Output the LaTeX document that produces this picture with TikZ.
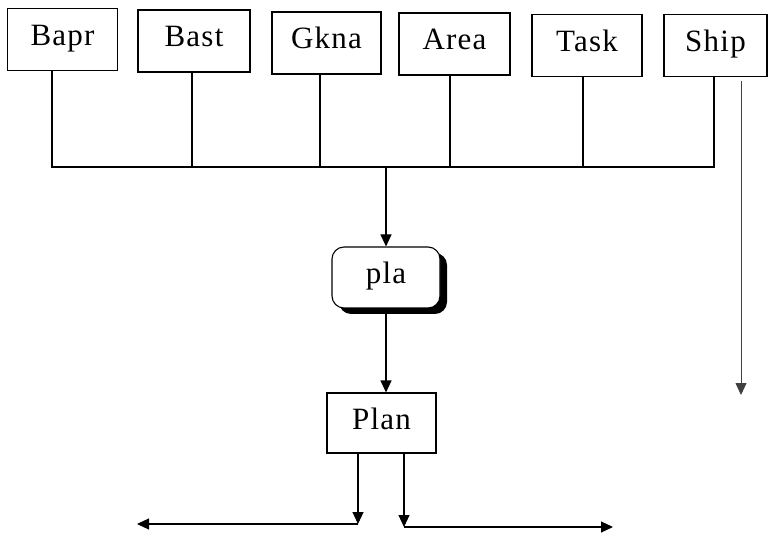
\documentclass[tikz,border=0pt]{standalone}
\usepackage{fontspec}
\setmainfont{Liberation Serif}[LetterSpace=4]
\usetikzlibrary{arrows.meta,shadows}
\begin{document}
\begin{tikzpicture}[x=1pt,y=-1pt, line width=1.1pt,
  box/.style={draw, rectangle, inner sep=0pt, minimum width=110pt,
    text height=37pt, text depth=25pt, font=\fontsize{31}{36}\selectfont},
  plabox/.style={draw, fill=white, rectangle, rounded corners=12pt, inner sep=0pt,
    minimum width=108pt, text height=37pt, text depth=24pt,
    font=\fontsize{31}{36}\selectfont,
    drop shadow={shadow xshift=7pt, shadow yshift=-6pt, fill=black, opacity=1}},
  arr/.style={-{Triangle[length=12pt,width=11pt]}},
]
\useasboundingbox (0,0) rectangle (768,534);

% top boxes
\node[box] (bapr) at (62.5,39.5) {Bapr};
\node[box, minimum width=112pt] (bast) at (194,41) {Bast};
\node[box, minimum width=109pt] (gkna) at (326.5,43) {Gkna};
\node[box, minimum width=111pt] (area) at (454.5,44) {Area};
\node[box] (task) at (587,45.5) {Task};
\node[box, minimum width=103pt] (ship) at (715.5,45.5) {Ship};

% bus
\coordinate (busL) at (52,167);
\coordinate (busR) at (714,167);
\coordinate (busM) at (386,167);
\draw (bapr.south -| busL) -- (busL) -- (busR) -- (ship.south -| busR);
\draw ([xshift=-2pt]bast.south) -- ([xshift=-2pt]bast.south |- busL);
\draw ([xshift=-6.5pt]gkna.south) -- ([xshift=-6.5pt]gkna.south |- busL);
\draw ([xshift=-4.5pt]area.south) -- ([xshift=-4.5pt]area.south |- busL);
\draw ([xshift=-4pt]task.south) -- ([xshift=-4pt]task.south |- busL);

% pla
\node[plabox] (pla) at (386,277.5) {pla};
\draw[arr] (busM) -- (pla.north);

% Plan
\node[box, minimum width=109pt, text height=36pt, text depth=24pt] (plan) at (381.5,423) {Plan};
\draw[arr] (pla.south) -- (pla.south |- plan.north);

% bottom arrows
\coordinate (lj) at (358,524);
\coordinate (lt) at (137,524);
\coordinate (rj) at (404,527);
\coordinate (rt) at (613,527);
\draw[arr] (plan.south -| lj) -- (lj);
\draw[arr] (lj) -- (lt);
\draw[arr] (plan.south -| rj) -- (rj);
\draw[arr] (rj) -- (rt);

% ship side arrow
\coordinate (se) at (741,395);
\draw[arr, line width=0.8pt, black!75] ([xshift=25.5pt,yshift=-3.5pt]ship.south) -- (se);
\end{tikzpicture}
\end{document}
